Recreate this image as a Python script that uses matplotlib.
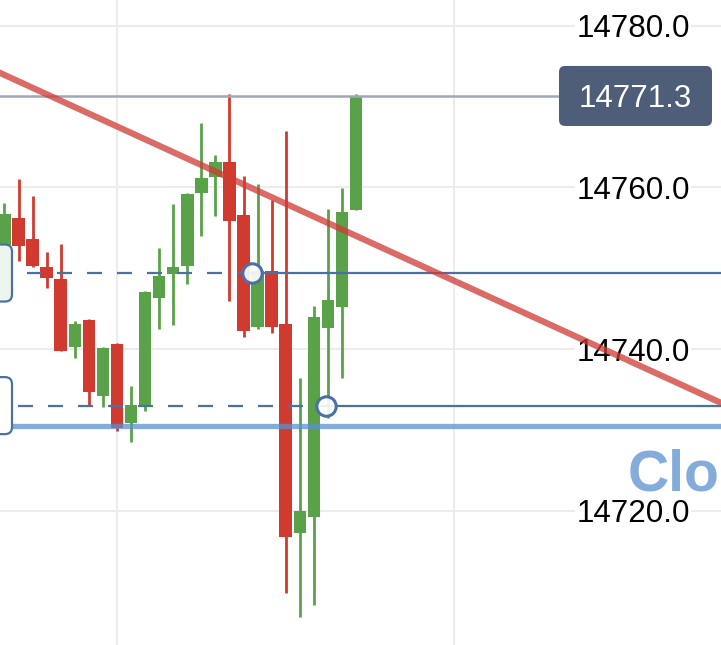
import matplotlib
matplotlib.use("Agg")
import matplotlib.pyplot as plt
import matplotlib.transforms as mtransforms
from matplotlib.patches import FancyBboxPatch

# candle data (one bar per index, oldest first)
opens = [14752.9, 14756.2, 14753.6, 14750.1, 14748.7, 14740.2, 14743.6, 14734.2, 14740.6,
         14730.8, 14733.1, 14746.3, 14749.3, 14750.3, 14759.3, 14761.3, 14763.1, 14756.6,
         14742.7, 14749.6, 14743.1, 14717.2, 14719.2, 14742.6, 14745.2, 14757.2]
highs = [14758.1, 14761.0, 14758.9, 14752.0, 14753.0, 14743.5, 14743.7, 14740.2, 14740.7,
         14735.4, 14747.2, 14752.5, 14757.9, 14759.3, 14768.0, 14764.0, 14771.5, 14761.4,
         14760.4, 14758.4, 14767.0, 14736.4, 14745.3, 14757.3, 14759.9, 14771.5]
lows = [14752.2, 14750.9, 14750.2, 14747.5, 14739.7, 14738.9, 14733.1, 14732.8, 14729.9,
        14728.5, 14732.3, 14742.5, 14743.0, 14748.0, 14754.0, 14756.5, 14745.9, 14741.5,
        14742.5, 14742.0, 14709.8, 14706.9, 14708.3, 14731.5, 14736.4, 14757.2]
closes = [14756.7, 14752.7, 14750.3, 14748.8, 14739.8, 14743.1, 14734.7, 14740.1, 14730.2,
          14733.1, 14747.1, 14749.0, 14750.1, 14759.2, 14761.2, 14763.1, 14755.8, 14742.2,
          14749.6, 14742.7, 14716.7, 14720.0, 14744.0, 14746.1, 14756.9, 14771.3]

y_ticks = [14720.0, 14740.0, 14760.0, 14780.0]
grid_bars = [8, 32]
last_price = 14771.3

# drawings on the chart
trend_bars = [0, 50]
trend_prices = [14773.9, 14734.1]
level_prices = [14749.4, 14733.0]
level_anchor_bars = [17.6, 22.87]
level_dash_start = [1.6, 0.96]
close_level = 14730.5

green = "#5aa24a"
red = "#d13a2e"
blue = "#4a71a6"
light_blue = "#5b91cf"
grid_col = "#ececef"

plt.rcParams["font.family"] = ["Liberation Sans", "DejaVu Sans"]
plt.rcParams["lines.scale_dashes"] = False

fig = plt.figure(figsize=(7.21, 6.45), dpi=100)
ax = fig.add_axes([0, 0, 1, 1])
ax.set_xlim(-0.32, 50.96)
ax.set_ylim(14703.39, 14783.17)
ax.axis("off")

# grid
for v in y_ticks:
    ax.axhline(v, color=grid_col, lw=1.5, zorder=0)
for b in grid_bars:
    ax.axvline(b, color=grid_col, lw=1.5, zorder=0)

# candles
for i in range(len(opens)):
    o, h, l, c = opens[i], highs[i], lows[i], closes[i]
    col = green if c >= o else red
    ax.vlines(i, l, h, color=col, lw=2, zorder=2)
    ax.bar(i, max(abs(c - o), 0.15), bottom=min(o, c), width=0.89,
           color=col, edgecolor="none", zorder=2)

# current price line
ax.axhline(last_price, xmax=559 / 721, color="#a0a8b5", lw=1.8, zorder=3)

# horizontal levels: dashed up to the anchor, solid after it
for p, a, s in zip(level_prices, level_anchor_bars, level_dash_start):
    ax.plot([s, a], [p, p], color=blue, lw=1.6, dashes=(10.8, 10.8), zorder=4)
    ax.plot([a, 52], [p, p], color=blue, lw=1.6, zorder=4)
    ax.plot(a, p, "o", ms=14, mfc=(1, 1, 1, 0.9), mec=blue, mew=2.2, zorder=8)

ax.axhline(close_level, color=light_blue, alpha=0.75, lw=3.8, zorder=5)

# trend line
ax.axline((trend_bars[0], trend_prices[0]), (trend_bars[1], trend_prices[1]),
          color="#d03a33", alpha=0.75, lw=4.5, zorder=6)

# label boxes in pixel space
fig.canvas.draw()
for p, fc in zip(level_prices, ["#eef5ee", "white"]):
    yd = ax.transData.transform((0, p))[1]
    box = FancyBboxPatch((-40, yd - 28.5), 52, 57,
                         boxstyle="round,pad=0,rounding_size=7",
                         fc=fc, ec=blue, lw=1.6,
                         transform=mtransforms.IdentityTransform(), zorder=7)
    ax.add_artist(box)

yd = ax.transData.transform((0, last_price))[1]
pbox = FancyBboxPatch((559, yd - 30), 153, 60,
                      boxstyle="round,pad=0,rounding_size=6",
                      fc="#4e5d78", ec="none",
                      transform=mtransforms.IdentityTransform(), zorder=9)
ax.add_artist(pbox)
ax.text(635.5 / 721, last_price, f"{last_price:.1f}", transform=ax.get_yaxis_transform(),
        ha="center", va="center_baseline", fontsize=22.6, color="white", zorder=10)

# y axis labels
for v in y_ticks:
    ax.text(633 / 721, v, f"{v:.1f}", transform=ax.get_yaxis_transform(),
            ha="center", va="center_baseline", fontsize=22.6, color="black", zorder=1,
            bbox=dict(fc="white", ec="none", pad=1))

close_trans = mtransforms.offset_copy(ax.get_yaxis_transform(), fig=fig, y=-65, units="dots")
ax.text(628 / 721, close_level, "Close", transform=close_trans, ha="left", va="baseline",
        fontsize=41, fontweight="bold", color=light_blue, alpha=0.75, zorder=5)

fig.savefig("out.png", dpi=100)
